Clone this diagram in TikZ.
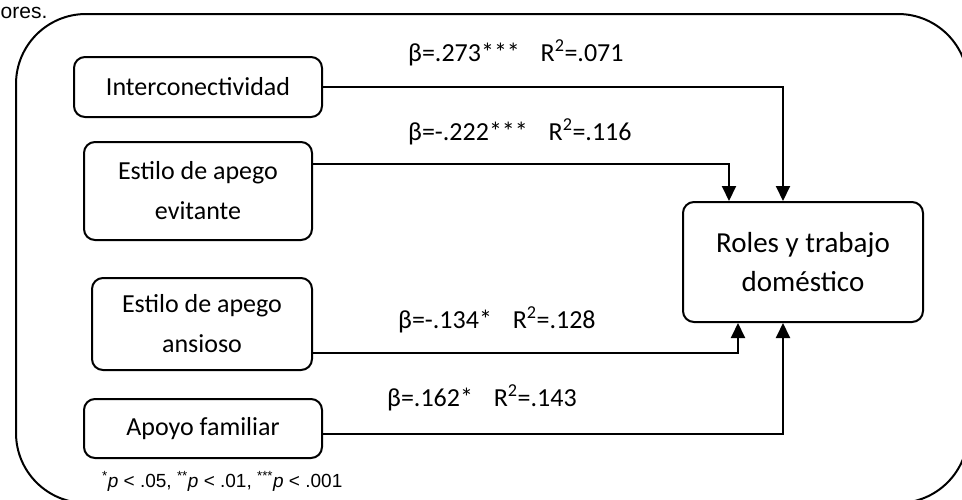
\documentclass[tikz,border=0pt]{standalone}
\usepackage{fontspec}
\setmainfont{Carlito}
\newfontfamily\arialf{Liberation Sans}
\usetikzlibrary{arrows.meta}
\begin{document}
\begin{tikzpicture}[x=1pt,y=-1pt,
  box/.style={draw,line width=2pt,rounded corners=11pt,inner sep=0pt,align=center,
    font=\fontsize{26}{40}\selectfont},
  conn/.style={line width=2pt,-{Triangle[length=15pt,width=14pt]}},
  coef/.style={anchor=base west,inner sep=0pt,font=\fontsize{26}{30}\selectfont}]
\useasboundingbox (0,0) rectangle (962,499);
\clip (0,0) rectangle (962,499);
% frame around the model
\draw[line width=2pt,rounded corners=70pt] (16,14) rectangle (968,503);
\node[anchor=base west,inner sep=0pt,font=\arialf\fontsize{21}{24}\selectfont] (cap) at (0.5,18) {ores.};
% predictors
\node[box,minimum width=248pt,minimum height=60pt] (inter) at (198,87) {Interconectividad};
\node[box,minimum width=228pt,minimum height=98pt] (evit) at (198,191) {Estilo de apego\\evitante};
\node[box,minimum width=220pt,minimum height=92pt] (ansi) at (202,324) {Estilo de apego\\ansioso};
\node[box,minimum width=238pt,minimum height=59pt] (apoyo) at (203,428.5) {Apoyo familiar};
% outcome
\node[box,minimum width=240pt,minimum height=120pt,font=\fontsize{29}{39}\selectfont] (roles) at (803,262) {Roles y trabajo\\doméstico};
% connector levels
\coordinate (xa) at (783,0);
\coordinate (xb) at (729,0);
\coordinate (xc) at (738,0);
\coordinate (yb) at (0,164);
\coordinate (yc) at (0,353);
\coordinate (yd) at (0,433.5);
\draw[conn] (inter.east) -| (roles.north -| xa);
\draw[conn] (evit.east |- yb) -| (roles.north -| xb);
\draw[conn] (ansi.east |- yc) -| (roles.south -| xc);
\draw[conn] (apoyo.east |- yd) -| (roles.south -| xa);
% coefficients
\node[coef] (l1) at (408,61) {β=.273***\hspace{0.8em}R\textsuperscript{2}=.071};
\node[coef] (l2) at (408,140) {β=-.222***\hspace{0.8em}R\textsuperscript{2}=.116};
\node[coef] (l3) at (398,328) {β=-.134*\hspace{0.8em}R\textsuperscript{2}=.128};
\node[coef] (l4) at (387,406) {β=.162*\hspace{0.8em}R\textsuperscript{2}=.143};
% significance note
\node[anchor=base west,inner sep=0pt,font=\arialf\fontsize{19}{22}\selectfont] (note) at (102,487)
  {\textsuperscript{*}\textit{p} < .05, \textsuperscript{**}\textit{p} < .01, \textsuperscript{***}\textit{p} < .001};
\end{tikzpicture}
\end{document}
